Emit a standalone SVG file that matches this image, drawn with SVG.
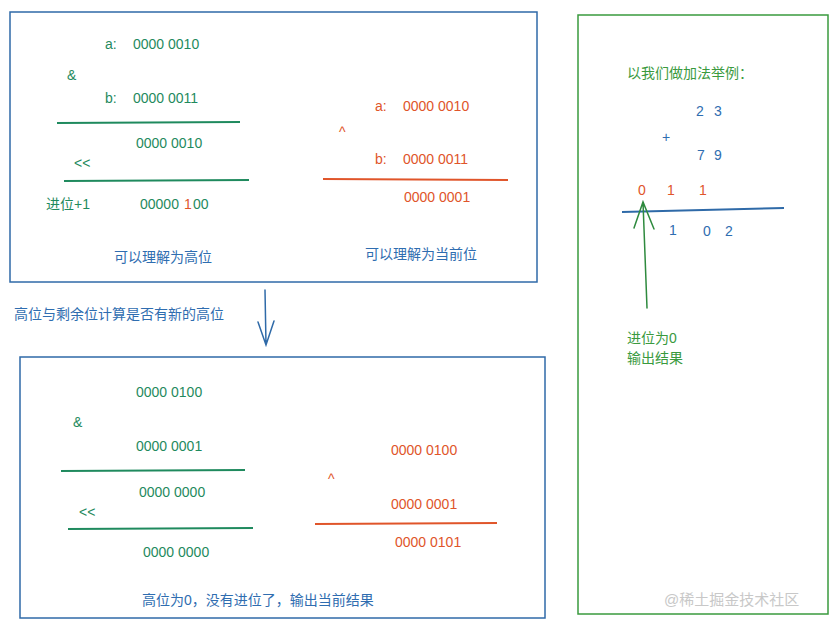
<svg xmlns="http://www.w3.org/2000/svg" width="840" height="628" viewBox="0 0 840 628">
<style>
text{font-family:"Liberation Sans","Noto Sans CJK SC",sans-serif;font-size:14px;white-space:pre}
.g{fill:#1f8a5e}.o{fill:#e0552a}.b{fill:#2f6db0}.dg{fill:#3a9a3e}
.box{fill:none;stroke:#2f6aa8;stroke-width:1.5}
.lg{stroke:#1f8a5e;stroke-width:2}.lo{stroke:#e0552a;stroke-width:2}
</style>
<rect width="840" height="628" fill="#fff"/>
<g id="topBox">
<rect class="box" x="10" y="12" width="527" height="270"/>
<text class="g" x="105" y="49">a:</text><text class="g" x="133" y="49">0000 0010</text>
<text class="g" x="67" y="80">&amp;</text>
<text class="g" x="105" y="103">b:</text><text class="g" x="133" y="103">0000 0011</text>
<line class="lg" x1="57" y1="123" x2="240" y2="122"/>
<text class="g" x="136" y="148">0000 0010</text>
<text class="g" x="74" y="168">&lt;&lt;</text>
<line class="lg" x1="64" y1="181" x2="249" y2="180"/>
<text class="g" x="46" y="209">进位+1</text>
<text class="g" x="140" y="209">00000</text><text class="o" x="184" y="209">1</text><text class="g" x="193" y="209">00</text>
<text class="b" x="114" y="262">可以理解为高位</text>
<text class="o" x="375" y="111">a:</text><text class="o" x="403" y="111">0000 0010</text>
<text class="o" x="339" y="137">^</text>
<text class="o" x="375" y="164">b:</text><text class="o" x="403" y="164">0000 0011</text>
<line class="lo" x1="323" y1="179" x2="508" y2="180"/>
<text class="o" x="404" y="202">0000 0001</text>
<text class="b" x="365" y="259">可以理解为当前位</text>
</g>
<g id="mid">
<text class="b" x="14" y="319">高位与剩余位计算是否有新的高位</text>
</g>
<g id="bottomBox">
<rect class="box" x="20" y="357" width="525" height="261"/>
<text class="g" x="136" y="397">0000 0100</text>
<text class="g" x="73" y="427">&amp;</text>
<text class="g" x="136" y="451">0000 0001</text>
<line class="lg" x1="61" y1="471" x2="245" y2="470"/>
<text class="g" x="139" y="497">0000 0000</text>
<text class="g" x="79" y="517">&lt;&lt;</text>
<line class="lg" x1="68" y1="529" x2="253" y2="528"/>
<text class="g" x="143" y="557">0000 0000</text>
<text class="b" x="142" y="605">高位为0，没有进位了，输出当前结果</text>
<text class="o" x="391" y="455">0000 0100</text>
<text class="o" x="328" y="484">^</text>
<text class="o" x="391" y="509">0000 0001</text>
<line class="lo" x1="315" y1="524" x2="497" y2="523"/>
<text class="o" x="395" y="547">0000 0101</text>
</g>
<g id="rightBox">
<rect x="578" y="15" width="250" height="599" fill="none" stroke="#3a9a3e" stroke-width="1.5"/>
<text class="dg" x="627" y="78">以我们做加法举例：</text>
<text class="b" x="696" y="116">2</text><text class="b" x="714" y="116">3</text>
<text class="b" x="662" y="142">+</text>
<text class="b" x="697" y="160">7</text><text class="b" x="714" y="160">9</text>
<text class="o" x="638" y="195">0</text>
<text class="o" x="667" y="195">1</text>
<text class="o" x="699" y="195">1</text>
<line x1="622" y1="212" x2="784" y2="208" stroke="#2f6aa8" stroke-width="2"/>
<text class="b" x="669" y="235">1</text>
<text class="b" x="703" y="236">0</text><text class="b" x="725" y="236">2</text>
<text class="dg" x="627" y="343">进位为0</text>
<text class="dg" x="627" y="363">输出结果</text>
</g>
<g id="connectors" fill="none" stroke-linecap="round">
<path d="M265 290 L266 345 M258 322 L266 345 L274 321" stroke="#2f6aa8" stroke-width="1.5"/>
<path d="M647 308 L643 202 M634 228 L643 202 L654 229" stroke="#2e8a3e" stroke-width="1.5"/>
</g>
<text x="664" y="605" fill="#c8c8c8" style="font-size:15px">@稀土掘金技术社区</text>
</svg>
